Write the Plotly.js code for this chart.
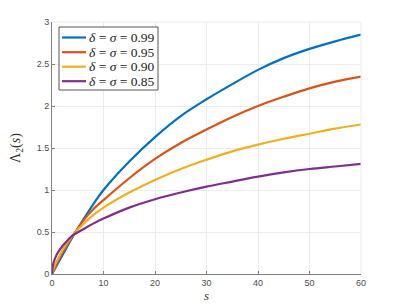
<!DOCTYPE html>
<html><head><meta charset="utf-8">
<script src="https://cdn.plot.ly/plotly-3.0.1.min.js"></script>
<style>html,body{margin:0;padding:0;background:#fff}#plot{width:399px;height:308px}</style>
</head><body><div id="plot"></div>
<script>
// Data
const sBlue   = [0, 1, 2, 4, 6, 8, 10, 15, 20, 25, 30, 35, 40, 45, 50, 55, 60];
const yBlue   = [0, 0.11, 0.22, 0.44, 0.64, 0.83, 1.00, 1.34, 1.63, 1.88, 2.08, 2.26, 2.43, 2.57, 2.68, 2.77, 2.85];
const sRed    = [0, 1, 2, 4, 6, 8, 10, 15, 20, 25, 30, 35, 40, 45, 50, 55, 60];
const yRed    = [0, 0.13, 0.25, 0.45, 0.63, 0.77, 0.88, 1.14, 1.37, 1.56, 1.72, 1.87, 2.00, 2.11, 2.21, 2.29, 2.35];
const sYellow = [0, 0.5, 1, 2, 4, 6, 8, 10, 15, 20, 25, 30, 35, 40, 45, 50, 55, 60];
const yYellow = [0, 0.10, 0.16, 0.28, 0.46, 0.59, 0.70, 0.79, 0.97, 1.12, 1.25, 1.36, 1.46, 1.54, 1.61, 1.67, 1.73, 1.78];
const sPurple = [0, 0.2, 0.5, 1, 2, 3, 4, 6, 8, 10, 15, 20, 25, 30, 35, 40, 45, 50, 55, 60];
const yPurple = [0, 0.11, 0.17, 0.24, 0.33, 0.40, 0.46, 0.53, 0.60, 0.66, 0.79, 0.89, 0.97, 1.04, 1.10, 1.16, 1.21, 1.25, 1.28, 1.31];
const seriesNames = ['<i>δ</i> = <i>σ</i> = 0.99', '<i>δ</i> = <i>σ</i> = 0.95', '<i>δ</i> = <i>σ</i> = 0.90', '<i>δ</i> = <i>σ</i> = 0.85'];
const xTicks = [0, 10, 20, 30, 40, 50, 60];
const yTicks = [0, 0.5, 1, 1.5, 2, 2.5, 3];
const yTickText = ['0', '0.5', '1', '1.5', '2', '2.5', '3'];

const colors = ['#0072BD', '#D95319', '#EDB120', '#7E2F8E'];
const xs = [sBlue, sRed, sYellow, sPurple];
const ys = [yBlue, yRed, yYellow, yPurple];
const traces = xs.map((x, i) => ({
  x: x, y: ys[i], type: 'scatter', mode: 'lines', name: seriesNames[i],
  line: {color: colors[i], width: 2.2, shape: 'spline', smoothing: 1}
}));

// plot area in pixels (for the hand-drawn legend box)
const L = 52, R = 361, T = 22, B = 274;
const px = v => (v - L) / (R - L);
const py = v => (B - v) / (B - T);

const shapes = [
  {type: 'line', xref: 'paper', yref: 'paper', x0: 0, x1: 1, y0: 1, y1: 1, line: {color: '#ececec', width: 1}},
  {type: 'line', xref: 'paper', yref: 'paper', x0: 1, x1: 1, y0: 0, y1: 1, line: {color: '#ececec', width: 1}},
  {type: 'rect', xref: 'paper', yref: 'paper', x0: px(59), x1: px(158), y0: py(90), y1: py(27),
   fillcolor: '#fff', line: {color: '#555', width: 1}, layer: 'above'}
];
const annotations = [];
const rowY = [37.5, 52.2, 66.7, 81.2];
seriesNames.forEach((n, i) => {
  shapes.push({type: 'line', xref: 'paper', yref: 'paper', x0: px(62), x1: px(86), y0: py(rowY[i]), y1: py(rowY[i]),
    line: {color: colors[i], width: 2.2}, layer: 'above'});
  annotations.push({xref: 'paper', yref: 'paper', x: px(87), y: py(rowY[i]), xanchor: 'left', yanchor: 'middle',
    text: n, showarrow: false, font: {family: 'Liberation Serif, serif', size: 13.5, color: '#222'}});
});

const axisCommon = {
  showline: true, linecolor: '#808080', linewidth: 1, mirror: false,
  ticks: 'inside', ticklen: 3, tickcolor: '#808080',
  showgrid: true, gridcolor: '#ececec', gridwidth: 1, zeroline: false,
  tickfont: {family: 'Liberation Sans, Arial, sans-serif', size: 9, color: '#4d4d4d'}
};

const layout = {
  width: 399, height: 308,
  margin: {l: 52, r: 38, t: 22, b: 34},
  paper_bgcolor: '#fff', plot_bgcolor: '#fff',
  showlegend: false,
  xaxis: Object.assign({}, axisCommon, {
    range: [0, 60], tickvals: xTicks,
    title: {text: '<i>s</i>', standoff: 3, font: {family: 'Liberation Serif, serif', size: 13, color: '#333'}}
  }),
  yaxis: Object.assign({}, axisCommon, {
    range: [0, 3], tickvals: yTicks, ticktext: yTickText,
    title: {text: 'Λ<sub>2</sub>(<i>s</i>)', standoff: 12, font: {family: 'Liberation Serif, serif', size: 14, color: '#333'}}
  }),
  shapes: shapes,
  annotations: annotations
};

Plotly.newPlot('plot', traces, layout, {displayModeBar: false, staticPlot: true});
</script></body></html>
